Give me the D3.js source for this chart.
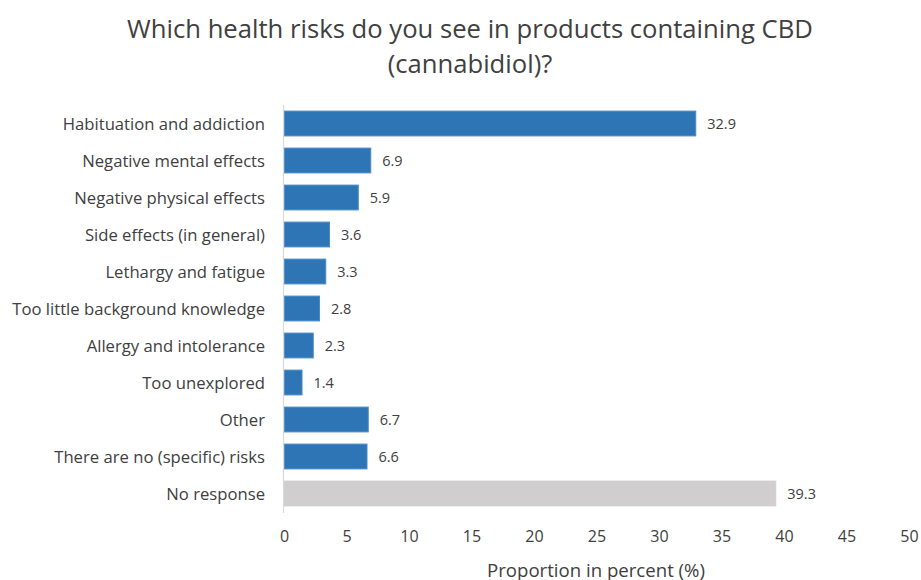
<!DOCTYPE html>
<html>
<head>
<meta charset="utf-8">
<script src="https://cdn.jsdelivr.net/npm/d3@7"></script>
<style>
  html, body { margin: 0; padding: 0; background: #ffffff; }
  svg { display: block; }
</style>
</head>
<body>
<div id="chart"></div>
<script>
// ---- data ----
const titleLines = ["Which health risks do you see in products containing CBD", "(cannabidiol)?"];
const categories = [
  "Habituation and addiction",
  "Negative mental effects",
  "Negative physical effects",
  "Side effects (in general)",
  "Lethargy and fatigue",
  "Too little background knowledge",
  "Allergy and intolerance",
  "Too unexplored",
  "Other",
  "There are no (specific) risks",
  "No response"
];
const values = [32.9, 6.9, 5.9, 3.6, 3.3, 2.8, 2.3, 1.4, 6.7, 6.6, 39.3];
const highlight = [false, false, false, false, false, false, false, false, false, false, true];
const tickValues = [0, 5, 10, 15, 20, 25, 30, 35, 40, 45, 50];
const xAxisTitle = "Proportion in percent (%)";

// ---- layout ----
const W = 921, H = 580;
const font = "'Open Sans', 'Segoe UI', sans-serif";
const textColor = "#404040";
const blue = "#2E75B6", blueStroke = "#4A89C8";
const grey = "#D0CECE";

const svg = d3.select("#chart").append("svg").attr("width", W).attr("height", H);

const x = d3.scaleLinear().domain([0, 50]).range([284, 909]);
const y = d3.scaleBand().domain(categories).range([105, 512]).paddingInner(0.33).paddingOuter(0.165);

function fit(sel, target) {
  const node = sel.node();
  const w = node.getComputedTextLength();
  const fs = parseFloat(sel.attr("font-size"));
  sel.attr("font-size", (fs * target / w).toFixed(2));
}

// title
let titleSize = 24;
titleLines.forEach((t, i) => {
  const tt = svg.append("text")
    .attr("x", 470).attr("y", i === 0 ? 28 : 63)
    .attr("text-anchor", "middle").attr("dominant-baseline", "central")
    .attr("font-family", font).attr("font-size", 24).attr("fill", textColor)
    .text(t);
  if (i === 0) { fit(tt, 686); titleSize = tt.attr("font-size"); }
  else tt.attr("font-size", titleSize);
});

// bars
svg.append("g").selectAll("rect").data(categories).join("rect")
  .attr("x", x(0) + 0.5)
  .attr("y", d => y(d))
  .attr("width", (d, i) => x(values[i]) - x(0))
  .attr("height", y.bandwidth())
  .attr("fill", (d, i) => highlight[i] ? grey : blue)
  .attr("stroke", (d, i) => highlight[i] ? grey : blueStroke)
  .attr("stroke-width", 1);

// vertical axis line
svg.append("line")
  .attr("x1", 283.5).attr("x2", 283.5)
  .attr("y1", 105).attr("y2", 513)
  .attr("stroke", "#D9D9D9").attr("stroke-width", 1.2);

// category labels
const catLabels = svg.append("g").selectAll("text").data(categories).join("text")
  .attr("x", 265)
  .attr("y", d => y(d) + y.bandwidth() / 2)
  .attr("text-anchor", "end").attr("dominant-baseline", "central")
  .attr("font-family", font).attr("font-size", 15).attr("fill", textColor)
  .text(d => d);
{
  const longest = catLabels.filter(d => d === "Too little background knowledge");
  fit(longest, 253);
  catLabels.attr("font-size", longest.attr("font-size"));
}

// value labels
svg.append("g").selectAll("text").data(categories).join("text")
  .attr("x", (d, i) => x(values[i]) + 12)
  .attr("y", d => y(d) + y.bandwidth() / 2)
  .attr("dominant-baseline", "central")
  .attr("font-family", font).attr("font-size", 14.5).attr("fill", textColor)
  .text((d, i) => values[i].toFixed(1));

// x axis (tick labels only)
const xAxis = d3.axisBottom(x).tickValues(tickValues).tickSize(0).tickPadding(0).tickFormat(d3.format("d"));
const axG = svg.append("g").attr("transform", "translate(0,531)").call(xAxis);
axG.select(".domain").remove();
axG.selectAll("text")
  .attr("font-family", font).attr("font-size", 16).attr("fill", textColor)
  .attr("dy", "0.71em");

// axis title
const at = svg.append("text")
  .attr("x", 596).attr("y", 569)
  .attr("text-anchor", "middle").attr("dominant-baseline", "central")
  .attr("font-family", font).attr("font-size", 17).attr("fill", textColor)
  .text(xAxisTitle);
fit(at, 218);
</script>
</body>
</html>
